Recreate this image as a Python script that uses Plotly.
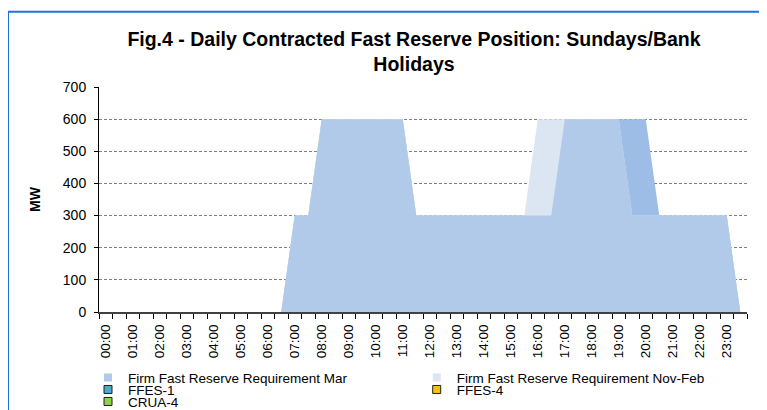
import plotly.graph_objects as go

# half-hourly categories
times = [f"{h:02d}:{m:02d}" for h in range(24) for m in (0, 30)]
tick_labels = times[::2]

mar = [0, 0, 0, 0, 0, 0, 0, 0, 0, 0, 0, 0, 0, 0,
       300, 300,
       600, 600, 600, 600, 600, 600, 600,
       300, 300, 300, 300, 300, 300, 300, 300, 300, 300, 300,
       600, 600, 600, 600, 600,
       300, 300, 300, 300, 300, 300, 300, 300,
       0]
nov_feb = [0, 0, 0, 0, 0, 0, 0, 0, 0, 0, 0, 0, 0, 0,
           300, 300,
           600, 600, 600, 600, 600, 600, 600,
           300, 300, 300, 300, 300, 300, 300, 300, 300,
           600, 600, 600, 600, 600, 600, 600,
           300, 300, 300, 300, 300, 300, 300, 300,
           0]
# series behind the others, its legend entry is cut off in the source
other = [0, 0, 0, 0, 0, 0, 0, 0, 0, 0, 0, 0, 0, 0,
         300, 300,
         600, 600, 600, 600, 600, 600, 600,
         300, 300, 300, 300, 300, 300, 300, 300, 300, 300, 300,
         600, 600, 600, 600, 600, 600, 600,
         300, 300, 300, 300, 300, 300,
         0]

legend_items = [
    ("Firm Fast Reserve Requirement Mar", "#B1CAEA", None),
    ("Firm Fast Reserve Requirement Nov-Feb", "#DCE6F3", None),
    ("FFES-1", "#4BACC6", "#1F1F1F"),
    ("FFES-4", "#FFC000", "#1F1F1F"),
    ("CRUA-4", "#92D050", "#1F1F1F"),
]

# the page body has an 8px margin, so the figure starts at (8, 8) on screen
OFF = 8
W, H = 767 - OFF, 410 - OFF
# plot-area edges in screen pixels
L, R, T, B = 99, 747, 87.3, 312.3


def px_x(p):
    return (p - L) / (R - L)


def px_y(p):
    return (B - p) / (B - T)


x = list(range(len(times)))
fig = go.Figure()
for vals, col, nm in [(other, "#9DBDE6", "Firm Fast Reserve Requirement"),
                      (nov_feb, "#DCE6F3", "Firm Fast Reserve Requirement Nov-Feb"),
                      (mar, "#B1CAEA", "Firm Fast Reserve Requirement Mar")]:
    fig.add_trace(go.Scatter(
        x=x, y=vals, mode="lines", fill="tozeroy", fillcolor=col,
        line=dict(width=0, color=col), name=nm, showlegend=False,
        hoverinfo="skip"))

# legend rows (each entry gets its own legend box so it can sit on its own row)
legend_pos = [(128, 378), (456.7, 378), (128, 390), (456.7, 390), (128, 402)]
layout_legends = {}
for i, ((nm, col, edge), (tx, ty)) in enumerate(zip(legend_items, legend_pos)):
    key = "legend" if i == 0 else f"legend{i + 1}"
    fig.add_trace(go.Scatter(
        x=[None], y=[None], mode="markers", name=nm, legend=key,
        marker=dict(symbol="square", size=8, color=col,
                    line=dict(color=edge or col, width=1 if edge else 0))))
    layout_legends[key] = dict(
        x=px_x(tx - 40), y=px_y(ty), xanchor="left", yanchor="middle",
        orientation="h", bgcolor="rgba(0,0,0,0)", borderwidth=0,
        font=dict(family="Liberation Sans, Arial", size=13.5, color="#000000"),
        itemclick=False, itemdoubleclick=False)

fig.update_layout(
    width=W, height=H,
    paper_bgcolor="white", plot_bgcolor="white",
    margin=dict(l=L - OFF, r=767 - R, t=T - OFF, b=410 - B, autoexpand=False),
    font=dict(family="Liberation Sans, Arial", size=13.5, color="#000000"),
    title=dict(text="<b>Fig.4 - Daily Contracted Fast Reserve Position: Sundays/Bank"
                    "<br>Holidays</b>",
               x=(414 - OFF) / W, xanchor="center", xref="container",
               y=1 - (46 - OFF) / H, yanchor="top", yref="container",
               font=dict(family="Liberation Sans, Arial", size=19.5, color="#000000")),
    xaxis=dict(range=[-0.5, len(times) - 0.5], tickmode="array",
               tickvals=x[::2], ticktext=tick_labels, tickangle=-90,
               ticks="outside", ticklen=5, tickcolor="rgba(0,0,0,0)",
               showgrid=False, zeroline=False,
               showline=True, linecolor="#404040", linewidth=2,
               tickfont=dict(size=13.5),
               minor=dict(tick0=-0.5, dtick=1, ticks="outside", ticklen=5,
                          tickcolor="#000000", tickwidth=1, showgrid=False)),
    yaxis=dict(range=[0, 700], dtick=100, ticks="outside", ticklen=4,
               tickcolor="#000000", showline=True, linecolor="#000000",
               linewidth=1, zeroline=False, showgrid=True,
               gridcolor="#7F7F7F", griddash="3px,2px", gridwidth=1,
               tickfont=dict(size=14), ticklabelstandoff=5,
               title=dict(text="<b>MW</b>", font=dict(size=14), standoff=18)),
    shapes=[dict(type="rect", xref="paper", yref="paper",
                 x0=px_x(8), x1=px_x(764), y0=px_y(12), y1=px_y(430),
                 line=dict(color="#1E73DC", width=2), fillcolor="rgba(0,0,0,0)",
                 layer="above")],
    hovermode=False,
    **layout_legends,
)

fig.write_html("out.html")
